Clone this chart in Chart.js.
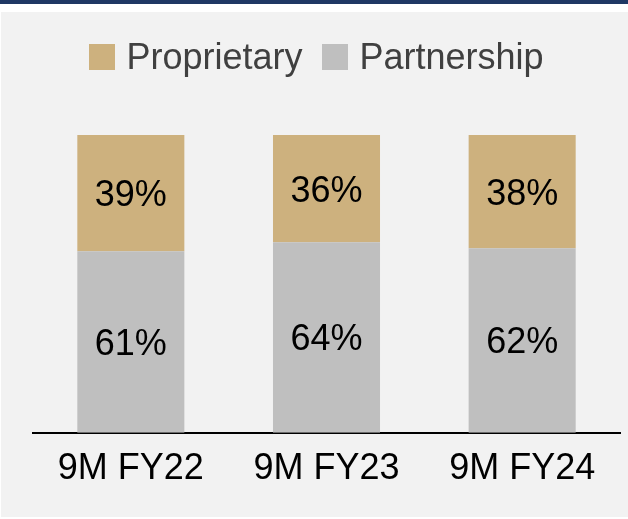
<!DOCTYPE html>
<html>
<head>
<meta charset="utf-8">
<script src="https://cdn.jsdelivr.net/npm/chart.js@4.4.1/dist/chart.umd.min.js"></script>
<style>
    html, body { margin: 0; padding: 0; background: #ffffff; }
    #topo { position: absolute; left: 0; top: 0; width: 628px; height: 4px; background: #1f3864; }
    #painel { position: absolute; left: 1px; top: 12px; width: 627px; height: 505px; background: #f2f2f2; }
    #grafico { position: absolute; left: 0; top: 0; display: block; }
    #legenda {
        position: absolute; left: 4px; right: 0; top: 25px; height: 40px;
        display: flex; justify-content: center; align-items: center;
        font-family: Arial, "Liberation Sans", sans-serif; font-size: 36px; color: #404040;
    }
    .item { display: flex; align-items: center; margin: 0 10px; }
    .caixa { width: 26px; height: 26px; margin-right: 11px; }
</style>
</head>
<body>
<div id="topo"></div>
<div id="painel">
    <canvas id="grafico" width="627" height="505"></canvas>
    <div id="legenda"></div>
</div>
<script>
const periodos = ["9M FY22", "9M FY23", "9M FY24"];
const proprietary = [39, 36, 38];
const partnership = [61, 64, 62];

// escreve o valor no meio de cada segmento
const rotulosBarras = {
    id: 'rotulosBarras',
    afterDatasetsDraw(chart) {
        let ctx = chart.ctx;
        ctx.save();
        ctx.font = '36px Arial, "Liberation Sans", sans-serif';
        ctx.fillStyle = '#000000';
        ctx.textAlign = 'center';
        ctx.textBaseline = 'middle';
        chart.data.datasets.forEach(function (dataset, i) {
            let meta = chart.getDatasetMeta(i);
            meta.data.forEach(function (barra, j) {
                let y = (barra.y + barra.base) / 2;
                ctx.fillText(dataset.data[j] + '%', barra.x, y + 3);
            });
        });
        ctx.restore();
    }
};

function montaLegenda(chart) {
    let legenda = document.getElementById("legenda");
    let datasets = chart.data.datasets.slice().reverse();
    for (let dataset of datasets) {
        let item = document.createElement("div");
        item.className = "item";
        let caixa = document.createElement("span");
        caixa.className = "caixa";
        caixa.style.background = dataset.backgroundColor;
        let texto = document.createElement("span");
        texto.textContent = dataset.label;
        item.appendChild(caixa);
        item.appendChild(texto);
        legenda.appendChild(item);
    }
}

window.onload = function () {
    let graficoElement = document.getElementById("grafico").getContext('2d');
    let grafico = new Chart(graficoElement, {
        type: 'bar',
        data: {
            labels: periodos,
            datasets: [{
                label: "Partnership",
                data: partnership,
                backgroundColor: '#bfbfbf',
                barPercentage: 0.547,
                categoryPercentage: 1
            }, {
                label: "Proprietary",
                data: proprietary,
                backgroundColor: '#cdb17e',
                barPercentage: 0.547,
                categoryPercentage: 1
            }]
        },
        options: {
            responsive: false,
            animation: false,
            layout: {
                padding: { left: 32, right: 8, top: 123, bottom: 19 }
            },
            scales: {
                x: {
                    stacked: true,
                    grid: { display: false },
                    border: { display: true, color: '#000000', width: 2 },
                    ticks: {
                        color: '#000000',
                        padding: 7,
                        font: { family: 'Arial, "Liberation Sans", sans-serif', size: 36 }
                    }
                },
                y: {
                    stacked: true,
                    display: false,
                    min: 0,
                    max: 100
                }
            },
            plugins: {
                tooltip: { enabled: false },
                legend: { display: false }
            }
        },
        plugins: [rotulosBarras]
    });
    montaLegenda(grafico);
};
</script>
</body>
</html>
